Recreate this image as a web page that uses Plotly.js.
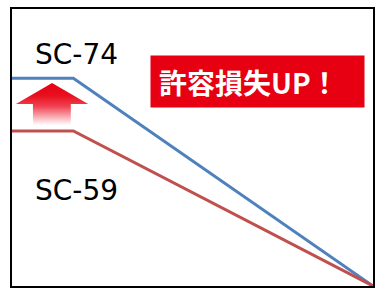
<!DOCTYPE html>
<html><head><meta charset="utf-8">
<script src="https://cdn.plot.ly/plotly-3.0.1.min.js"></script>
<style>html,body{margin:0;padding:0;background:#fff;}#chart{width:376px;height:289px;}</style>
</head><body><div id="chart"></div>
<script>
// Derating curves (relative scale, 0-100)
const curveX = [0, 17, 100];
const sc74Y = [75, 75, 0];
const sc59Y = [56, 56, 0];
const seriesNames = ['SC-74', 'SC-59'];
// Decorative upward arrow outline
const arrowX = [11.1, 21.1, 16.3, 16.3, 5.8, 5.8, 1.1, 11.1];
const arrowY = [73.3, 65.7, 65.7, 58.1, 58.1, 65.7, 65.7, 73.3];
const badgeText = '許容損失UP！';

const traces = [
  {x: arrowX, y: arrowY, type: 'scatter', mode: 'lines', fill: 'toself',
   line: {width: 0, color: 'rgba(0,0,0,0)'},
   fillgradient: {type: 'vertical', colorscale: [[0, '#ffffff'], [0.45, '#f04050'], [0.7, '#e8101e'], [1, '#e60012']]},
   hoverinfo: 'skip', showlegend: false},
  {x: curveX, y: sc74Y, type: 'scatter', mode: 'lines', name: seriesNames[0],
   line: {color: '#4F81BD', width: 3}, showlegend: false},
  {x: curveX, y: sc59Y, type: 'scatter', mode: 'lines', name: seriesNames[1],
   line: {color: '#C0504D', width: 3}, showlegend: false}
];

const ax = {range: [0, 100], showgrid: false, zeroline: false, showticklabels: false,
  ticks: '', showline: true, mirror: true, linecolor: '#000', linewidth: 2, fixedrange: true};

const layout = {
  width: 376, height: 289,
  margin: {l: 12, r: 3, t: 9, b: 3},
  paper_bgcolor: '#fff', plot_bgcolor: '#fff',
  xaxis: Object.assign({}, ax),
  yaxis: Object.assign({}, ax),
  annotations: [
    {x: 5.8, y: 83.6, xref: 'x', yref: 'y', xanchor: 'left', yanchor: 'middle', showarrow: false,
     text: seriesNames[0], font: {family: 'DejaVu Sans', size: 28, color: '#000'}},
    {x: 5.8, y: 34.6, xref: 'x', yref: 'y', xanchor: 'left', yanchor: 'middle', showarrow: false,
     text: seriesNames[1], font: {family: 'DejaVu Sans', size: 28, color: '#000'}},
    {x: 38.2, y: 74.0, xref: 'x', yref: 'y', xanchor: 'left', yanchor: 'middle', showarrow: false,
     text: '<b>' + badgeText + '</b>', bgcolor: '#E60012', borderpad: 8,
     width: 197, height: 35, align: 'left',
     font: {family: 'Noto Sans CJK JP', size: 28, color: '#fff'}}
  ]
};

Plotly.newPlot('chart', traces, layout, {displayModeBar: false, staticPlot: true});
</script></body></html>
